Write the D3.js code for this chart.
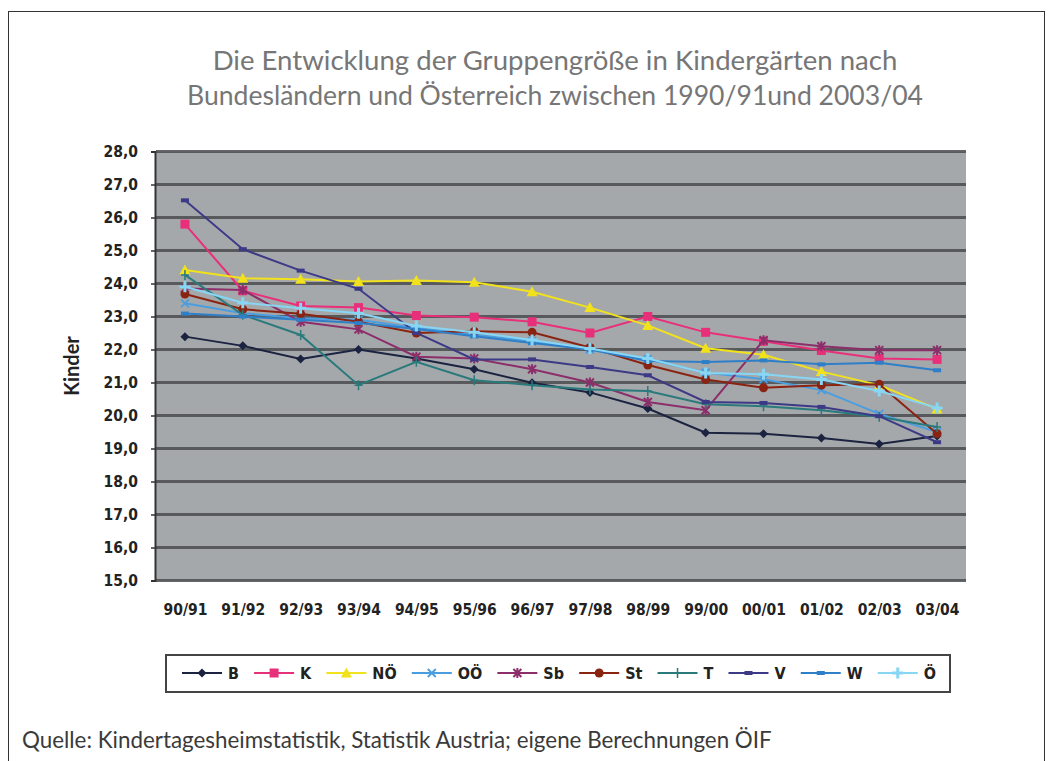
<!DOCTYPE html>
<html><head><meta charset="utf-8">
<script src="https://cdn.jsdelivr.net/npm/d3@7"></script>
<style>body{margin:0;background:#fff}svg{display:block}</style>
</head><body>
<script>
const categories = ["90/91","91/92","92/93","93/94","94/95","95/96","96/97","97/98","98/99","99/00","00/01","01/02","02/03","03/04"];
const seriesNames = ["B","K","NÖ","OÖ","Sb","St","T","V","W","Ö"];
const valuesB  = [22.39,22.11,21.71,22.00,21.73,21.40,20.99,20.70,20.21,19.48,19.45,19.32,19.14,19.38];
const valuesK  = [25.80,23.78,23.32,23.27,23.03,22.98,22.84,22.50,23.00,22.52,22.25,21.97,21.73,21.70];
const valuesNO = [24.41,24.16,24.13,24.06,24.09,24.04,23.75,23.27,22.73,22.04,21.84,21.33,20.92,20.20];
const valuesOO = [23.40,23.10,22.95,22.90,22.65,22.45,22.25,22.00,21.70,21.30,21.10,20.77,20.05,19.50];
const valuesSb = [23.85,23.80,22.84,22.61,21.78,21.73,21.40,21.00,20.41,20.16,22.28,22.10,21.98,21.98];
const valuesSt = [23.68,23.22,23.08,22.84,22.50,22.55,22.52,22.06,21.53,21.09,20.84,20.92,20.95,19.45];
const valuesT  = [24.26,23.05,22.44,20.92,21.63,21.07,20.92,20.79,20.74,20.34,20.28,20.16,19.96,19.65];
const valuesV  = [26.52,25.04,24.39,23.84,22.50,21.70,21.70,21.47,21.22,20.41,20.38,20.26,19.98,19.19];
const valuesW  = [23.09,23.00,22.90,22.80,22.62,22.40,22.20,22.00,21.65,21.62,21.67,21.55,21.60,21.37];
const valuesOe = [23.90,23.42,23.25,23.10,22.71,22.52,22.29,22.03,21.73,21.29,21.25,21.09,20.74,20.23];
const yTicks = [15,16,17,18,19,20,21,22,23,24,25,26,27,28];
const titleLines = ["Die Entwicklung der Gruppengröße in Kindergärten nach","Bundesländern und Österreich zwischen 1990/91und 2003/04"];
const yTitle = "Kinder";
const sourceText = "Quelle: Kindertagesheimstatistik, Statistik Austria; eigene Berechnungen ÖIF";

const allValues = [valuesB,valuesK,valuesNO,valuesOO,valuesSb,valuesSt,valuesT,valuesV,valuesW,valuesOe];
const colors = ["#1c2340","#e8307a","#f2e21c","#4a9ee0","#8c2e6a","#8a2412","#2a7a7c","#3c3a86","#2f7fc8","#86d6f4"];
const markers = ["diamond","square","triangle","x","star","circle","plus","dash","dash","cross"];

const W = 1055, H = 761;
const svg = d3.select("body").append("svg").attr("width",W).attr("height",H);
svg.append("rect").attr("x",8.5).attr("y",11.5).attr("width",1036).attr("height",770)
  .attr("fill","#fff").attr("stroke","#333").attr("stroke-width",1);

function fitText(sel, target){
  const w = sel.node().getComputedTextLength();
  const fs = parseFloat(sel.attr("font-size"));
  if (w > 0) sel.attr("font-size", (fs*target/w).toFixed(2));
}
const sans = "Lato, 'Open Sans', 'Noto Sans', sans-serif";
const cond = "'Liberation Sans Narrow','DejaVu Sans Condensed','Arial Narrow',sans-serif";

// title
const t1 = svg.append("text").attr("x",555).attr("y",70).attr("text-anchor","middle")
  .attr("font-family",sans).attr("font-size",24).attr("fill","#767676").text(titleLines[0]);
fitText(t1,685);
const t2 = svg.append("text").attr("x",555).attr("y",105).attr("text-anchor","middle")
  .attr("font-family",sans).attr("font-size",24).attr("fill","#767676").text(titleLines[1]);
fitText(t2,736);

// plot
const pLeft=156, pRight=966, pTop=151.5, pBottom=580.5;
const x = d3.scalePoint().domain(categories).range([pLeft,pRight]).padding(0.5);
const y = d3.scaleLinear().domain([15,28]).range([pBottom,pTop]);

svg.append("rect").attr("x",pLeft).attr("y",pTop).attr("width",pRight-pLeft).attr("height",pBottom-pTop).attr("fill","#a5a8ab");

const grid = svg.append("g");
grid.selectAll("line").data(yTicks).join("line")
  .attr("x1",pLeft).attr("x2",pRight).attr("y1",d=>y(d)).attr("y2",d=>y(d))
  .attr("stroke","#4a4c4f").attr("stroke-width",3).attr("opacity",0.85);

const yAxis = d3.axisLeft(y).tickValues(yTicks).tickSize(4).tickPadding(13)
  .tickFormat(d=>d3.format(".1f")(d).replace(".",","));
const ga = svg.append("g").attr("transform",`translate(${pLeft-1},0)`).call(yAxis);
ga.select(".domain").attr("stroke","#333").attr("stroke-width",2);
ga.selectAll(".tick line").attr("stroke","#333").attr("stroke-width",1.5);
ga.selectAll(".tick text").attr("font-family",cond).attr("font-weight","bold").attr("font-size",15.5).attr("fill","#222");

const xAxis = d3.axisBottom(x).tickSize(0).tickPadding(23);
const gx = svg.append("g").attr("transform",`translate(0,${pBottom})`).call(xAxis);
gx.select(".domain").remove();
gx.selectAll(".tick text").attr("font-family",cond).attr("font-weight","bold").attr("font-size",15.5).attr("fill","#222");

svg.append("text").attr("transform","translate(79,366) rotate(-90)").attr("text-anchor","middle")
  .attr("font-family",sans).attr("font-weight","bold").attr("font-size",20).attr("fill","#222").text(yTitle);

function drawMarker(g, type, cx, cy, color){
  const s=4.5;
  switch(type){
    case "diamond": g.append("path").attr("d",`M${cx},${cy-s}L${cx+s},${cy}L${cx},${cy+s}L${cx-s},${cy}Z`).attr("fill",color); break;
    case "square": g.append("rect").attr("x",cx-4.5).attr("y",cy-4.5).attr("width",9).attr("height",9).attr("fill",color); break;
    case "triangle": g.append("path").attr("d",`M${cx},${cy-5.5}L${cx+5.5},${cy+4.5}L${cx-5.5},${cy+4.5}Z`).attr("fill",color); break;
    case "x": g.append("path").attr("d",`M${cx-4},${cy-4}L${cx+4},${cy+4}M${cx-4},${cy+4}L${cx+4},${cy-4}`).attr("stroke",color).attr("stroke-width",1.8); break;
    case "star": g.append("path").attr("d",`M${cx-4},${cy-4}L${cx+4},${cy+4}M${cx-4},${cy+4}L${cx+4},${cy-4}M${cx},${cy-5}L${cx},${cy+5}`).attr("stroke",color).attr("stroke-width",2); break;
    case "circle": g.append("circle").attr("cx",cx).attr("cy",cy).attr("r",4.5).attr("fill",color); break;
    case "plus": g.append("path").attr("d",`M${cx},${cy-5}L${cx},${cy+5}M${cx-4},${cy}L${cx+4},${cy}`).attr("stroke",color).attr("stroke-width",1.5); break;
    case "dash": g.append("rect").attr("x",cx-4).attr("y",cy-2).attr("width",8).attr("height",4).attr("fill",color); break;
    case "cross": g.append("path").attr("d",`M${cx},${cy-5.5}L${cx},${cy+5.5}M${cx-5.5},${cy}L${cx+5.5},${cy}`).attr("stroke",color).attr("stroke-width",3); break;
  }
}

const line = d3.line().x((d,i)=>x(categories[i])).y(d=>y(d));
allValues.forEach((vals,k)=>{
  const g = svg.append("g");
  g.append("path").datum(vals).attr("d",line).attr("fill","none").attr("stroke",colors[k]).attr("stroke-width",2);
  vals.forEach((v,i)=>drawMarker(g,markers[k],x(categories[i]),y(v),colors[k]));
});

// legend
svg.append("rect").attr("x",166).attr("y",655).attr("width",784).attr("height",37)
  .attr("fill","#fff").attr("stroke","#444").attr("stroke-width",2);
const lg = svg.append("g");
const ly = 673;
const lineLen = 40, gapIn = 6, legendFs = 16;
const widths = seriesNames.map(n=>{
  const t = lg.append("text").attr("font-family",cond).attr("font-weight","bold").attr("font-size",legendFs).text(n);
  const w = t.node().getComputedTextLength(); t.remove(); return w;
});
const startX = 182, endX = 936;
const used = d3.sum(widths) + seriesNames.length*(lineLen+gapIn);
const gapOut = (endX-startX-used)/(seriesNames.length-1);
let lx = startX;
seriesNames.forEach((n,k)=>{
  lg.append("line").attr("x1",lx).attr("x2",lx+lineLen).attr("y1",ly).attr("y2",ly).attr("stroke",colors[k]).attr("stroke-width",2);
  drawMarker(lg,markers[k],lx+lineLen/2,ly,colors[k]);
  lg.append("text").attr("x",lx+lineLen+gapIn).attr("y",ly+6).attr("font-family",cond).attr("font-weight","bold")
    .attr("font-size",legendFs).attr("fill","#222").text(n);
  lx += lineLen+gapIn+widths[k]+gapOut;
});

// source
const src = svg.append("text").attr("x",22).attr("y",748).attr("font-family",sans).attr("font-size",17).attr("fill","#3a3a3a").text(sourceText);
fitText(src,750);
</script>
</body></html>
